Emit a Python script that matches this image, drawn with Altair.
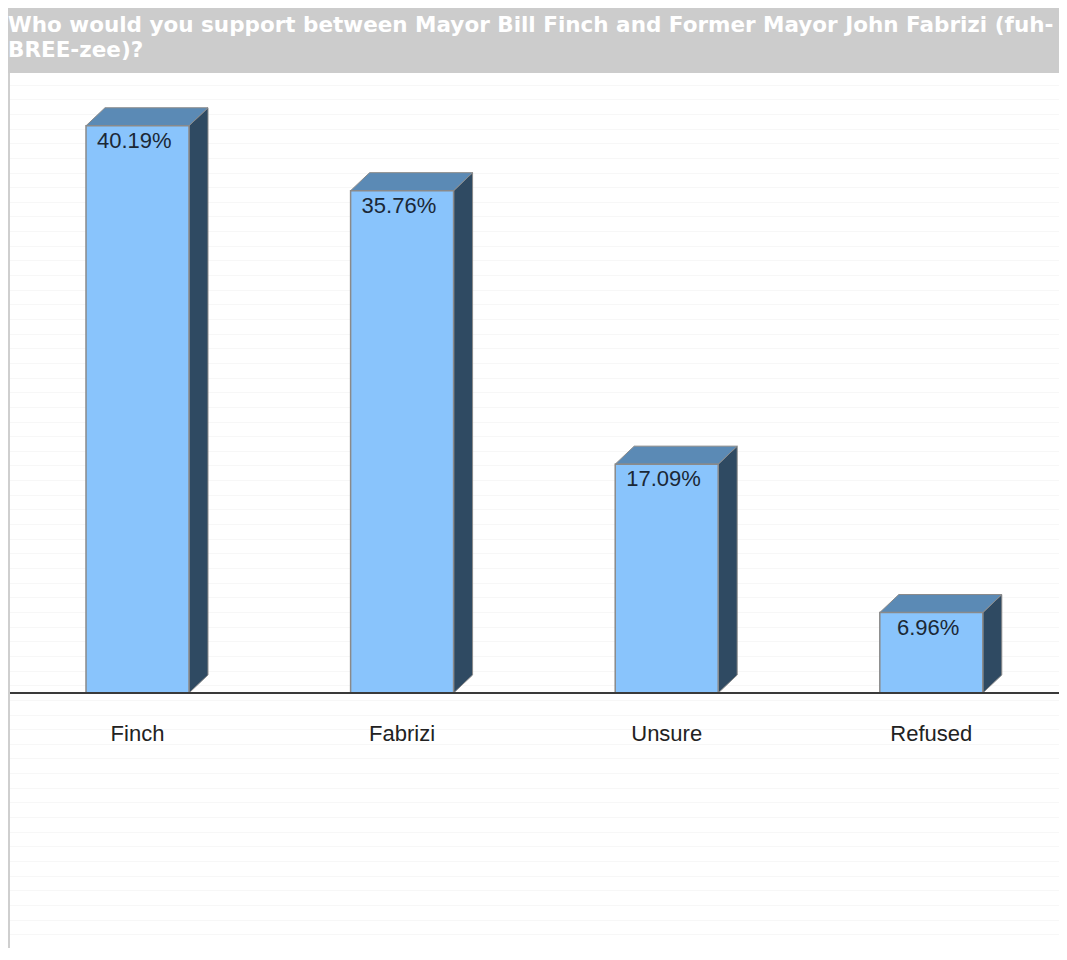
import altair as alt
import pandas as pd

# ---- data ----
categories = ["Finch", "Fabrizi", "Unsure", "Refused"]
values = [40.19, 35.76, 17.09, 6.96]
value_labels = ["40.19%", "35.76%", "17.09%", "6.96%"]
title_text = ("Who would you support between Mayor Bill Finch and Former Mayor John Fabrizi (fuh-\n"
              "BREE-zee)?")

# ---- layout constants ----
W, H = 1051, 940
X_DOMAIN = [-0.4894, 3.4826]
Y_DOMAIN = [-15.94, 48.23]
BASE = 1.468      # where the bars sit (drawn baseline)
HW = 0.1946       # half bar width (x units)
DX = 0.0718       # 3D depth in x units
DY = 1.229        # 3D depth in y units
LABEL_Y = -1.33   # category label position
FRONT = "#89C4FC"
TOPC = "#5B8AB5"
SIDE = "#2F4A62"
EDGE = "#8a8a8a"

idx = list(range(len(categories)))
front = pd.DataFrame({
    "cat": categories, "v": values, "lab": value_labels,
    "x0": [i - HW for i in idx], "x1": [i + HW for i in idx],
    "xc": [i - 0.012 for i in idx], "xl": idx,
    "base": [BASE] * len(idx), "ly": [LABEL_Y] * len(idx),
    "ty": [v - 1.03 for v in values],
})

top_rows, side_rows = [], []
for i, c, v in zip(idx, categories, values):
    top_rows.append({"cat": c, "y": v, "xa": i - HW, "xb": i + HW})
    top_rows.append({"cat": c, "y": v + DY, "xa": i - HW + DX, "xb": i + HW + DX})
    side_rows.append({"cat": c, "x": i + HW, "ya": v, "yb": BASE})
    side_rows.append({"cat": c, "x": i + HW + DX, "ya": v + DY, "yb": BASE + DY})
top = pd.DataFrame(top_rows)
side = pd.DataFrame(side_rows)

xs = alt.Scale(domain=X_DOMAIN, nice=False, zero=False)
ys = alt.Scale(domain=Y_DOMAIN, nice=False, zero=False)

grid = alt.Chart(front).mark_point(opacity=0).encode(
    x=alt.X("xl:Q", scale=xs, axis=None),
    y=alt.Y("v:Q", scale=ys, axis=alt.Axis(grid=True, gridColor="#f7f7f7", gridWidth=1,
                                             labels=False, ticks=False, domain=False,
                                             title=None, tickCount=60)),
)

side_l = alt.Chart(side).mark_area(color=SIDE, stroke=EDGE, strokeWidth=1, fillOpacity=1).encode(
    x=alt.X("x:Q", scale=xs),
    y=alt.Y("ya:Q", scale=ys),
    y2="yb:Q",
    detail="cat:N",
)

top_l = alt.Chart(top).mark_area(orient="horizontal", color=TOPC, stroke=EDGE,
                                 strokeWidth=1, fillOpacity=1).encode(
    y=alt.Y("y:Q", scale=ys),
    x=alt.X("xa:Q", scale=xs),
    x2="xb:Q",
    detail="cat:N",
)

front_l = alt.Chart(front).mark_rect(color=FRONT, stroke=EDGE, strokeWidth=1.5).encode(
    x=alt.X("x0:Q", scale=xs),
    x2="x1:Q",
    y=alt.Y("v:Q", scale=ys),
    y2="base:Q",
)

val_l = alt.Chart(front).mark_text(font="Liberation Sans", fontSize=22, color="#1b2836",
                                   align="center", baseline="middle").encode(
    x=alt.X("xc:Q", scale=xs),
    y=alt.Y("ty:Q", scale=ys),
    text="lab:N",
)

base_l = alt.Chart(front).mark_rule(color="#3a3a3a", strokeWidth=2).encode(
    y=alt.Y("base:Q", scale=ys),
    x=alt.value(0), x2=alt.value(W),
)

cat_l = alt.Chart(front).mark_text(font="Liberation Sans", fontSize=22, color="#222222",
                                   align="center", baseline="middle").encode(
    x=alt.X("xl:Q", scale=xs),
    y=alt.Y("ly:Q", scale=ys),
    text="cat:N",
)

one = pd.DataFrame({"t": [title_text]})
bar_bg = alt.Chart(one).mark_rect(color="#cccccc").encode(
    x=alt.value(0), x2=alt.value(W), y=alt.value(0), y2=alt.value(65),
)
left_edge = alt.Chart(one).mark_rule(color="#cfcfcf", strokeWidth=2).encode(
    x=alt.value(1), y=alt.value(65), y2=alt.value(H),
)
title_l = alt.Chart(one).mark_text(
    font="DejaVu Sans", fontWeight="bold", fontSize=21.5, color="#ffffff",
    align="left", baseline="alphabetic", lineBreak="\n", lineHeight=25,
).encode(x=alt.value(0), y=alt.value(24), text="t:N")

chart = alt.layer(grid, side_l, top_l, front_l, val_l, base_l, cat_l,
                  bar_bg, left_edge, title_l).properties(
    width=W, height=H, autosize=alt.AutoSizeParams(type="none"), padding=0,
).configure_view(stroke=None).configure(background="#ffffff")

chart.save("out.html", embed_options={"renderer": "svg", "actions": False})
